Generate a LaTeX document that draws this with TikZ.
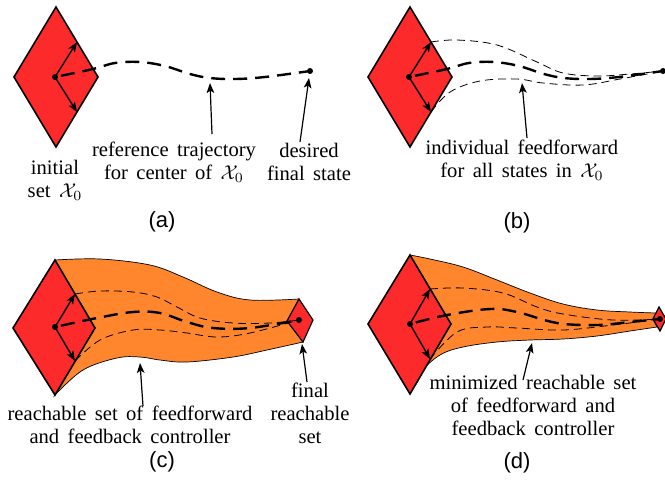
\documentclass[tikz,border=0pt]{standalone}
\usepackage{fontspec}
\setmainfont{Liberation Serif}
\newfontfamily\capfont{Liberation Sans}
\usetikzlibrary{arrows.meta}

\definecolor{setred}{RGB}{252,42,42}
\definecolor{tubeorange}{RGB}{255,134,44}

\newcommand\lblfont{\fontsize{10.3}{11.5}\selectfont\spaceskip=4.2pt plus 1pt minus 1pt\relax}
\newcommand\capsize{\capfont\fontsize{11}{13}\selectfont}

\begin{document}
\begin{tikzpicture}[x=0.5pt,y=-0.5pt,
  % multi-line labels are placed by the baseline of their last line
  lbl/.style={align=center, anchor=base, font=\lblfont, inner sep=0pt},
  subcap/.style={anchor=base, font=\capsize, inner sep=0pt},
  setshape/.style={fill=setred, draw=black, line width=0.8pt, line join=miter},
  tube/.style={fill=tubeorange, draw=black, line width=0.35pt},
  nominal/.style={line width=1.2pt, dash pattern=on 7pt off 4pt, dash phase=-3pt},
  indiv/.style={line width=0.4pt, dash pattern=on 4pt off 2.5pt},
  vec/.style={line width=0.7pt, -{Stealth[length=5pt,width=3.8pt,inset=1.2pt]}},
  pointer/.style={line width=0.6pt, -{Stealth[length=5pt,width=3.8pt,inset=1.2pt]}},
  dot/.style={fill=black},
  smoothcurve/.style={smooth, tension=0.6}
]
\useasboundingbox (0,0) rectangle (665,479);

% ---------------- (a) initial set and reference trajectory
\coordinate (aL) at (14,77);  \coordinate (aT) at (56,7);
\coordinate (aR) at (98,77);  \coordinate (aB) at (56,147);
\coordinate (aC) at (55,77);
\coordinate (aU) at (77,42);  \coordinate (aD) at (77,112);
\coordinate (aE) at (310,71);
\draw[setshape] (aL) -- (aT) -- (aR) -- (aB) -- cycle;
\draw[nominal] plot[smoothcurve] coordinates {(55,77) (93,69) (115,63) (140,62) (165,66) (190,74) (210,78) (235,79) (265,77) (310,71)};
\draw[vec] (aC) -- (aU);
\draw[vec] (aC) -- (aD);
\fill[dot] (aC) circle[radius=1.5pt];
\fill[dot] (aE) circle[radius=1.5pt];

\node[lbl] (aInit) at (55,197) {initial\\set $\mathcal{X}_0$};
\node[lbl] (aRef) at (174,179) {reference trajectory\\for center of $\mathcal{X}_0$};
\node[lbl] (aDes) at (309,180) {desired\\final state};
\coordinate (aRefTip) at (210,83);
\coordinate (aRefTail) at (212,134);
\coordinate (aDesTip) at (309,78);
\coordinate (aDesTail) at (300,142);
\draw[pointer] (aRefTail) -- (aRefTip);
\draw[pointer] (aDesTail) -- (aDesTip);
\node[subcap] (capA) at (162,227) {(a)};

% ---------------- (b) individual feedforward trajectories
\coordinate (bL) at (368,77);  \coordinate (bT) at (410,7);
\coordinate (bR) at (452,77);  \coordinate (bB) at (410,147);
\coordinate (bC) at (409,77);
\coordinate (bU) at (431,42);  \coordinate (bD) at (431,112);
\coordinate (bE) at (663,71);
\draw[setshape] (bL) -- (bT) -- (bR) -- (bB) -- cycle;
\draw[indiv] plot[smoothcurve] coordinates {(431,42) (457,40) (497,45) (537,62) (563,73) (597,76) (630,74) (663,71)};
\draw[indiv] plot[smoothcurve] coordinates {(431,112) (450,92) (480,81) (517,79) (543,83) (583,85) (620,79) (663,71)};
\draw[nominal] plot[smoothcurve] coordinates {(409,77) (447,69) (469,63) (494,62) (519,66) (544,74) (564,78) (589,79) (619,77) (663,71)};
\draw[vec] (bC) -- (bU);
\draw[vec] (bC) -- (bD);
\fill[dot] (bC) circle[radius=1.5pt];
\fill[dot] (bE) circle[radius=1.5pt];

\node[lbl] (bInd) at (522,177) {individual feedforward\\for all states in $\mathcal{X}_0$};
\coordinate (bTip) at (522,83);
\coordinate (bTail) at (527,138);
\draw[pointer] (bTail) -- (bTip);
\node[subcap] (capB) at (517,228) {(b)};

% ---------------- (c) reachable set of the combined controller
\coordinate (cL) at (13,328);  \coordinate (cT) at (55,260);
\coordinate (cR) at (95,328);  \coordinate (cB) at (55,395);
\coordinate (cC) at (55,327);
\coordinate (cU) at (75,294);  \coordinate (cD) at (75,361);
\coordinate (fL) at (287,321); \coordinate (fT) at (299,299);
\coordinate (fR) at (313,320); \coordinate (fB) at (303,342);
\coordinate (cE) at (299,320);
\path[tube] plot[smoothcurve] coordinates {(55,260) (100,259) (150,265) (183,277) (217,292) (250,300) (299,299)}
  -- (fL)
  -- plot[smoothcurve] coordinates {(303,342) (267,350) (233,357) (187,362) (160,360) (140,357) (117,358) (83,370) (55,395)}
  -- (cR) -- cycle;
\draw[setshape] (cL) -- (cT) -- (cR) -- (cB) -- cycle;
\draw[setshape, line width=0.6pt] (fL) -- (fT) -- (fR) -- (fB) -- cycle;
\draw[indiv] plot[smoothcurve] coordinates {(75,294) (100,291) (133,292) (157,297) (177,307) (200,318) (233,323) (270,323) (299,320)};
\draw[indiv] plot[smoothcurve] coordinates {(75,361) (100,340) (133,330) (160,330) (187,333) (217,337) (250,333) (299,320)};
\draw[nominal] plot[smoothcurve] coordinates {(55,327) (97,318) (133,312) (160,313) (187,322) (213,328) (250,328) (299,320)};
\draw[vec] (cC) -- (cU);
\draw[vec] (cC) -- (cD);
\fill[dot] (cC) circle[radius=1.5pt];
\fill[dot] (cE) circle[radius=1.5pt];

\node[lbl] (cReach) at (130,443) {reachable set of feedforward\\and feedback controller};
\node[lbl] (cFinal) at (310,443) {final\\reachable\\set};
\coordinate (cTip) at (140,363);
\coordinate (cTail) at (143,406);
\coordinate (cFTip) at (302,344);
\coordinate (cFTail) at (307,382);
\draw[pointer] (cTail) -- (cTip);
\draw[pointer] (cFTail) -- (cFTip);
\node[subcap] (capC) at (162,467) {(c)};

% ---------------- (d) minimized reachable set
\coordinate (dL) at (368,324); \coordinate (dT) at (410,255);
\coordinate (dR) at (451,324); \coordinate (dB) at (410,394);
\coordinate (dC) at (410,324);
\coordinate (dU) at (430,289); \coordinate (dD) at (430,359);
\coordinate (gL) at (653,319); \coordinate (gT) at (659,307);
\coordinate (gR) at (666,319); \coordinate (gB) at (660,331);
\coordinate (dE) at (660,319);
\path[tube] plot[smoothcurve] coordinates {(410,255) (430,259) (463,267) (497,280) (530,293) (563,304) (597,310) (630,312) (656,313)}
  -- (gL)
  -- plot[smoothcurve] coordinates {(657,327) (630,331) (597,336) (563,339) (530,340) (497,342) (463,347) (440,355) (420,373) (410,394)}
  -- (dR) -- cycle;
\draw[setshape] (dL) -- (dT) -- (dR) -- (dB) -- cycle;
\draw[setshape, line width=0.6pt] (gL) -- (gT) -- (gR) -- (gB) -- cycle;
\draw[indiv] plot[smoothcurve] coordinates {(430,289) (463,288) (503,293) (537,307) (563,314) (613,320) (660,319)};
\draw[indiv] plot[smoothcurve] coordinates {(430,359) (457,332) (487,327) (517,328) (563,330) (613,325) (660,319)};
\draw[nominal] plot[smoothcurve] coordinates {(410,324) (447,315) (490,309) (517,312) (557,323) (597,325) (630,322) (660,319)};
\draw[vec] (dC) -- (dU);
\draw[vec] (dC) -- (dD);
\fill[dot] (dC) circle[radius=1.5pt];
\fill[dot] (dE) circle[radius=1.5pt];

\node[lbl] (dMin) at (533,435) {minimized reachable set\\of feedforward and\\feedback controller};
\coordinate (dTip) at (532,343);
\coordinate (dTail) at (523,380);
\draw[pointer] (dTail) -- (dTip);
\node[subcap] (capD) at (517,468) {(d)};
\end{tikzpicture}
\end{document}
